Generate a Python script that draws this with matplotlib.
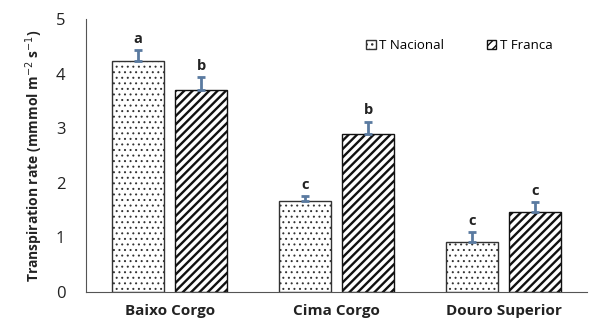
import numpy as np
import matplotlib
import matplotlib.pyplot as plt

matplotlib.use("Agg")

plt.rcParams.update({
    "font.family": ["Open Sans", "DejaVu Sans"],
})

regions = ["Baixo Corgo", "Cima Corgo", "Douro Superior"]
nacional = [4.23, 1.66, 0.92]
nacional_err = [0.20, 0.10, 0.17]
franca = [3.70, 2.89, 1.46]
franca_err = [0.23, 0.23, 0.18]
nacional_letters = ["a", "c", "c"]
franca_letters = ["b", "b", "c"]

ERR_COLOR = "#5a7aa0"

fig = plt.figure(figsize=(5.9, 3.23), dpi=100)
ax = fig.add_axes([0.146, 0.096, 0.849, 0.845])

x = np.arange(len(regions))
w = 0.31
off = 0.19

# hatch line width is picked up when the patch is made
with plt.rc_context({"hatch.linewidth": 0.7, "hatch.color": "#222222"}):
    b1 = ax.bar(x - off, nacional, w, color="white", edgecolor="#333333",
                hatch="...", linewidth=1.0, label="T Nacional")
with plt.rc_context({"hatch.linewidth": 1.7}):
    b2 = ax.bar(x + off, franca, w, color="white", edgecolor="#111111",
                hatch="////", linewidth=1.0, label="T Franca")

ax.errorbar(x - off, nacional, yerr=[np.zeros(3), nacional_err], fmt="none",
            ecolor=ERR_COLOR, elinewidth=2, capsize=3, capthick=2)
ax.errorbar(x + off, franca, yerr=[np.zeros(3), franca_err], fmt="none",
            ecolor=ERR_COLOR, elinewidth=2, capsize=3, capthick=2)

for xi, v, e, t in zip(x - off, nacional, nacional_err, nacional_letters):
    ax.text(xi, v + e + 0.08, t, ha="center", va="bottom",
            fontsize=10.5, fontweight="bold", color="#222222")
for xi, v, e, t in zip(x + off, franca, franca_err, franca_letters):
    ax.text(xi, v + e + 0.08, t, ha="center", va="bottom",
            fontsize=10.5, fontweight="bold", color="#222222")

ax.set_xlim(-0.5, 2.5)
ax.set_ylim(0, 5)
ax.set_yticks(range(6))
ax.set_xticks(x)
ax.set_xticklabels(regions, fontsize=11, fontweight="bold", color="#222222")
ax.tick_params(axis="y", labelsize=12, length=0, pad=15, colors="#222222")
ax.tick_params(axis="x", length=0, pad=9)
ax.set_ylabel("Transpiration rate (mmmol m$^{-2}$ s$^{-1}$)", fontsize=10,
              fontweight="bold", color="#222222", labelpad=8)

for s in ["top", "right"]:
    ax.spines[s].set_visible(False)
ax.spines["left"].set_color("#555555")
ax.spines["bottom"].set_color("#555555")

leg = ax.legend(loc="upper right", bbox_to_anchor=(0.955, 0.97), ncol=2,
                frameon=False, fontsize=9.5, handlelength=0.7, handleheight=0.7,
                handletextpad=0.3, columnspacing=3.2)

fig.savefig("out.png", dpi=100)
